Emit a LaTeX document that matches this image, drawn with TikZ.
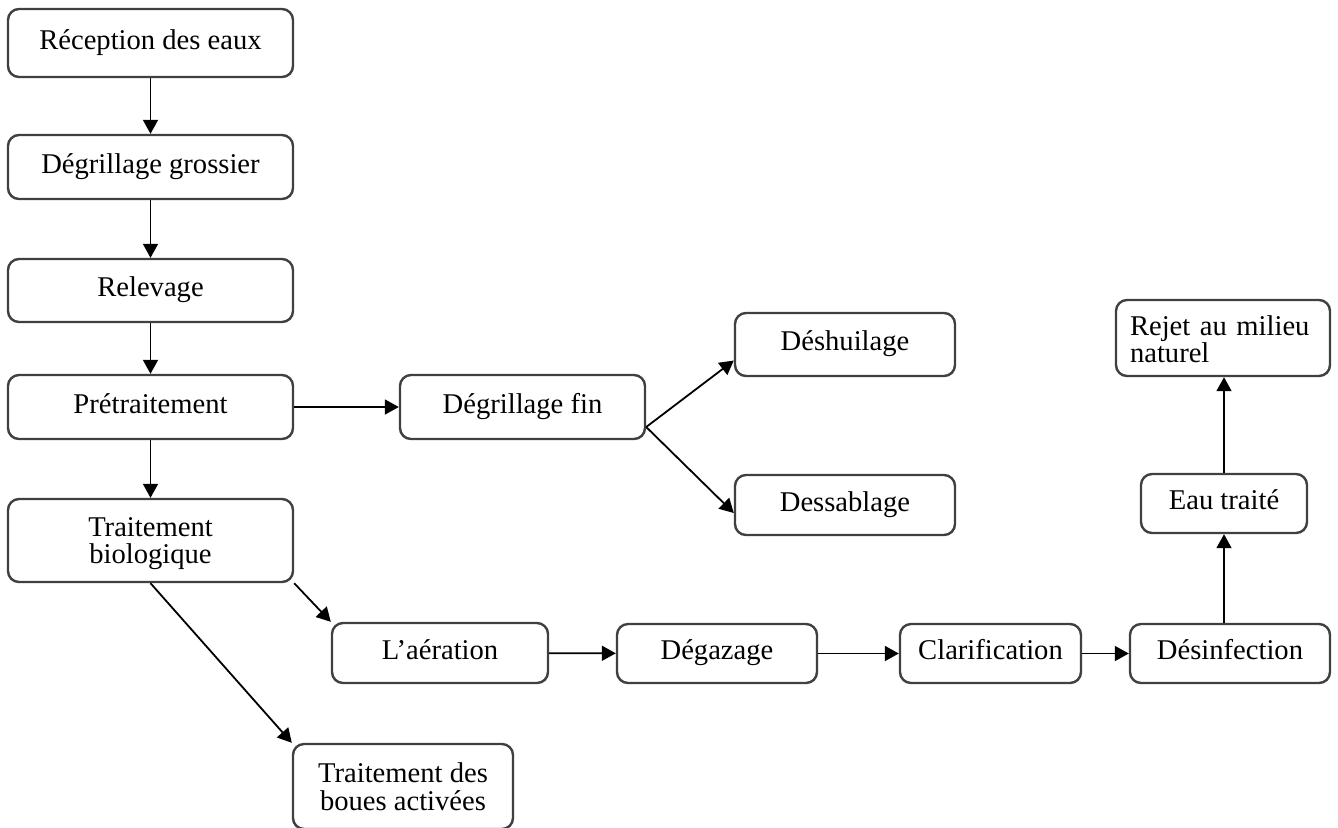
\documentclass[tikz,border=0pt]{standalone}
\usepackage{fontspec}
\setmainfont{Liberation Serif}
\usetikzlibrary{arrows.meta,calc}
\begin{document}
\begin{tikzpicture}[x=0.5pt,y=-0.5pt,
  box/.style={draw=black!75, line width=1.2pt, rounded corners=5.5pt, fill=white, inner sep=0pt, font=\fontsize{14.3}{13.8}\selectfont},
  one/.style={box, text height=12pt, text depth=6pt},
  arr/.style={draw=black, line width=0.9pt, -{Triangle[length=7pt,width=7.5pt]}}]
\useasboundingbox (0,0) rectangle (1338,827);
% left column
\node[one, minimum width=142.5pt, minimum height=34pt] (rec) at (150.5,43) {Réception des eaux};
\node[one, minimum width=142.5pt, minimum height=32pt] (dgros) at (150.5,167) {Dégrillage grossier};
\node[one, minimum width=142.5pt, minimum height=31.5pt] (relev) at (150.5,290.5) {Relevage};
\node[one, minimum width=142.5pt, minimum height=32pt] (pret) at (150.5,407) {Prétraitement};
\node[box, align=center, minimum width=142.5pt, minimum height=41.5pt] (bio) at (150.5,540.5) {\rule{0pt}{12.5pt}Traitement\\biologique};
% pretreatment branch
\node[one, minimum width=122.5pt, minimum height=32pt] (dfin) at (522.5,407) {Dégrillage fin};
\node[one, minimum width=110pt, minimum height=31.5pt] (desh) at (845,344.5) {Déshuilage};
\node[one, minimum width=110pt, minimum height=30pt] (dess) at (845,505) {Dessablage};
% biological branch
\node[one, minimum width=108pt, minimum height=30pt] (aer) at (440,653) {L’aération};
\node[one, minimum width=100pt, minimum height=29.5pt] (degaz) at (717,653.5) {Dégazage};
\node[one, minimum width=90.5pt, minimum height=29.5pt] (clar) at (990.5,653.5) {Clarification};
\node[one, minimum width=100pt, minimum height=29.5pt] (desinf) at (1230,653.5) {Désinfection};
\node[one, minimum width=83pt, minimum height=29.5pt] (eau) at (1224,503.5) {Eau traité};
\node[box, align=left, text width=93pt, inner xsep=7pt, minimum height=38pt] (rejet) at (1223,338) {\rule{0pt}{11pt}Rejet au milieu\\naturel};
\node[box, align=center, minimum width=110pt, minimum height=42.5pt] (boues) at (403,786.5) {Traitement des\\boues activées};
% connectors
\draw[arr] (rec) -- (dgros);
\draw[arr] (dgros) -- (relev);
\draw[arr] (relev) -- (pret);
\draw[arr] (pret) -- (bio);
\draw[arr] (pret) -- (dfin);
\coordinate (fork) at ($(dfin.east)+(0,20)$);
\draw[arr] (fork) -- ($(desh.west)+(0,16)$);
\draw[arr] (fork) -- ($(dess.west)+(0,8)$);
\draw[arr] (bio.south east) -- (aer.north west);
\draw[arr] (bio.south) -- (boues.north west);
\draw[arr] (aer) -- (degaz);
\draw[arr] (degaz) -- (clar);
\draw[arr] (clar) -- (desinf);
\draw[arr] (desinf.north -| eau) -- (eau.south);
\draw[arr] (eau.north) -- (eau.north |- rejet.south);
\end{tikzpicture}
\end{document}
